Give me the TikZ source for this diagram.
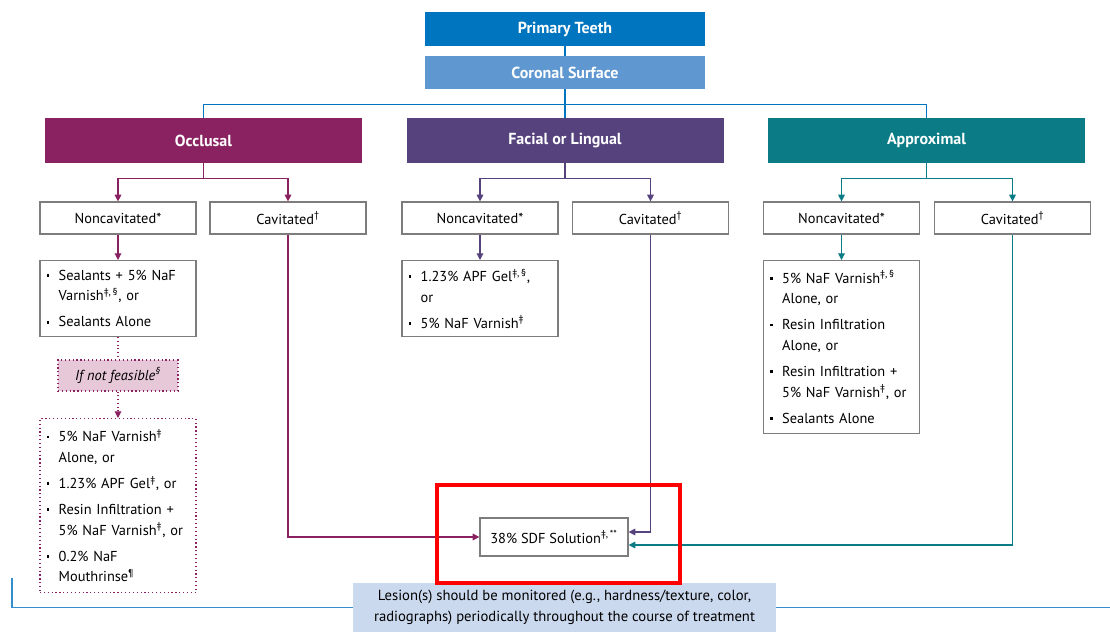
\documentclass[tikz,border=0pt]{standalone}
\usepackage{fontspec}
\setmainfont{PT Sans}
\usetikzlibrary{positioning,arrows.meta}

\definecolor{ptblue}{RGB}{0,117,191}
\definecolor{csblue}{RGB}{95,151,208}
\definecolor{occcol}{RGB}{138,34,97}
\definecolor{faccol}{RGB}{86,66,124}
\definecolor{appcol}{RGB}{11,124,133}
\definecolor{feasfill}{RGB}{230,200,217}
\definecolor{monfill}{RGB}{203,217,238}
\definecolor{monline}{RGB}{52,142,206}
\definecolor{boxgray}{RGB}{125,125,125}

\newcommand\bul{\makebox[9pt][l]{\rule[2.6pt]{2pt}{2pt}}}
\newcommand\ind{\hspace*{9pt}}

\tikzset{
	head/.style={fill=#1,text=white,font=\bfseries\fontsize{12}{14}\selectfont,inner sep=0pt},
	cat/.style={head=#1,minimum width=237.75pt,minimum height=33.75pt},
	choice/.style={draw=boxgray,line width=0.9pt,fill=white,minimum width=117pt,minimum height=24pt,inner sep=0pt,font=\fontsize{10.8}{13}\selectfont},
	list/.style={draw=boxgray,line width=0.9pt,fill=white,text width=107pt,inner xsep=5pt,inner ysep=4pt,align=left,anchor=north,font=\fontsize{10.8}{15.5}\selectfont},
	link/.style={draw=#1,line width=0.8pt},
	tip/.style={-{Triangle[length=5pt,width=5pt]}}
}

\begin{document}
\begin{tikzpicture}[x=0.75pt,y=-0.75pt]
	\useasboundingbox (0,0) rectangle (1110,632);
	\node[head=ptblue,minimum width=210pt,minimum height=25.5pt](pt) at (565,29){Primary Teeth};
	\node[head=csblue,minimum width=210pt,minimum height=24.75pt](cs) at (565,72.5){Coronal Surface};
	\node[cat=occcol](occ) at (203.5,140.5){Occlusal};
	\node[cat=faccol](fac) at (565,140.5){Facial or Lingual};
	\node[cat=appcol](app) at (926.5,140.5){Approximal};
	\node[choice](nc1) at (118,218){Noncavitated*};
	\node[choice](cv1) at (288,218){Cavitated\textsuperscript{†}};
	\node[choice](nc2) at (480,218){Noncavitated*};
	\node[choice](cv2) at (650.5,218){Cavitated\textsuperscript{†}};
	\node[choice](nc3) at (841.5,218){Noncavitated*};
	\node[choice](cv3) at (1012.5,218){Cavitated\textsuperscript{†}};
	\node[list,minimum height=57pt](ol1) at (118,260){\bul Sealants + 5\% NaF\\\ind Varnish\textsuperscript{‡,\,§}, or\\[4pt]\bul Sealants Alone};
	\node[choice,draw=occcol,dotted,fill=feasfill,minimum width=90pt,minimum height=23.25pt,font=\itshape\fontsize{10.8}{13}\selectfont](feas) at (118,375.5){If not feasible\textsuperscript{§}};
	\node[list,draw=occcol,dotted,minimum height=130.5pt](ol2) at (118,418){\bul 5\% NaF Varnish\textsuperscript{‡}\\\ind Alone, or\\[4pt]\bul 1.23\% APF Gel\textsuperscript{‡}, or\\[4pt]\bul Resin Infiltration +\\\ind 5\% NaF Varnish\textsuperscript{‡}, or\\[4pt]\bul 0.2\% NaF\\\ind Mouthrinse\textsuperscript{¶}};
	\node[list,minimum height=57pt](fl) at (480,260){\bul 1.23\% APF Gel\textsuperscript{‡,\,§},\\\ind or\\[4pt]\bul 5\% NaF Varnish\textsuperscript{‡}};
	\node[list,minimum height=129.75pt](al) at (841.5,260){\bul 5\% NaF Varnish\textsuperscript{‡,\,§}\\\ind Alone, or\\[4pt]\bul Resin Infiltration\\\ind Alone, or\\[4pt]\bul Resin Infiltration +\\\ind 5\% NaF Varnish\textsuperscript{‡}, or\\[4pt]\bul Sealants Alone};
	\node[choice,minimum width=111pt,minimum height=28.5pt](sdf) at (554,537){38\% SDF Solution\textsuperscript{‡,\,**}};
	\node[fill=monfill,minimum width=317.25pt,minimum height=36.75pt,inner sep=0pt,align=center,font=\fontsize{11}{16}\selectfont](mon) at (564.5,607.5){Lesion(s) should be monitored (e.g., hardness/texture, color,\\radiographs) periodically throughout the course of treatment};
	\coordinate (ml) at (12,578);
	\coordinate (mr) at (1110,607.5);
	\draw[link=ptblue](pt) -- (cs);
	\draw[link=ptblue](cs.south) -- ++(0,15) -| (occ.north);
	\draw[link=ptblue](cs.south) -- (fac.north);
	\draw[link=ptblue](cs.south) -- ++(0,15) -| (app.north);
	\draw[link=occcol,tip](occ.south) -- ++(0,15) -| (nc1.north);
	\draw[link=occcol,tip](occ.south) -- ++(0,15) -| (cv1.north);
	\draw[link=faccol,tip](fac.south) -- ++(0,15) -| (nc2.north);
	\draw[link=faccol,tip](fac.south) -- ++(0,15) -| (cv2.north);
	\draw[link=appcol,tip](app.south) -- ++(0,15) -| (nc3.north);
	\draw[link=appcol,tip](app.south) -- ++(0,15) -| (cv3.north);
	\draw[link=occcol,tip](nc1) -- (ol1);
	\draw[link=faccol,tip](nc2) -- (fl);
	\draw[link=appcol,tip](nc3) -- (al);
	\draw[link=occcol,dotted](ol1) -- (feas);
	\draw[link=occcol,dotted,tip](feas) -- (ol2);
	\draw[link=occcol,tip](cv1.south) |- (sdf.west);
	\draw[link=faccol,tip](cv2.south) |- ([yshift=3.75pt]sdf.east);
	\draw[link=appcol,tip](cv3.south) |- ([yshift=-6pt]sdf.east);
	\draw[link=monline,line width=1.2pt](ml) |- (mon.west);
	\draw[link=monline,line width=1.2pt](mon.east) -- (mr);
	\draw[red,line width=3pt](437,485) rectangle (680,583);
\end{tikzpicture}
\end{document}
